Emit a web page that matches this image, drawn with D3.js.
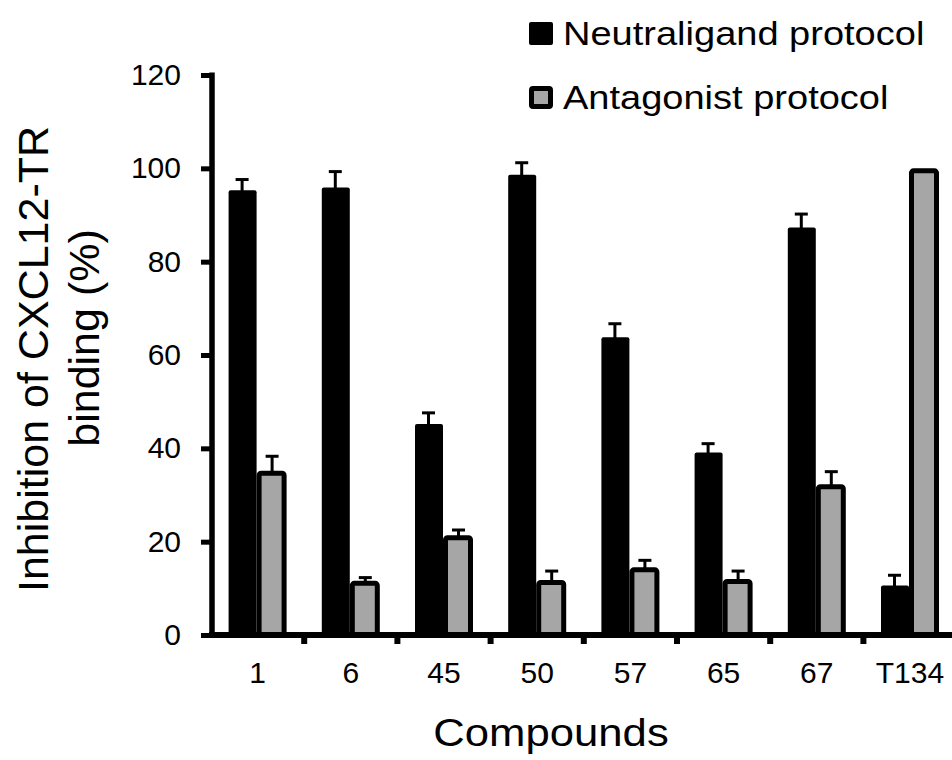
<!DOCTYPE html>
<html>
<head>
<meta charset="utf-8">
<script src="https://cdn.jsdelivr.net/npm/d3@7"></script>
<style>
  html, body { margin: 0; padding: 0; background: #fff; }
  svg { display: block; font-family: "Liberation Sans", Arial, Helvetica, sans-serif; }
</style>
</head>
<body>
<svg id="chart" width="952" height="760"></svg>
<script>
// ---- data ----
const categories = ["1", "6", "45", "50", "57", "65", "67", "T134"];
const seriesNames = ["Neutraligand protocol", "Antagonist protocol"];
const neutraligand = [95.3, 95.9, 45.2, 98.6, 63.8, 39.1, 87.3, 10.6];
const neutraligandErr = [2.3, 3.4, 2.4, 2.6, 2.9, 1.9, 2.9, 2.2];
const antagonist = [35.2, 11.6, 21.4, 11.8, 14.5, 12.0, 32.3, 100];
const antagonistErr = [3.1, 0.7, 1.1, 1.9, 1.5, 1.7, 2.7, 0];
const yTicks = [0, 20, 40, 60, 80, 100, 120];
const xTitle = "Compounds";
const yTitleLines = ["Inhibition of CXCL12-TR", "binding (%)"];

// ---- layout ----
const svg = d3.select("#chart");
const y0 = 635, yTop = 75;
const xLeft = 211, bandW = 93.2;

const x = d3.scaleBand().domain(categories).range([xLeft, xLeft + bandW * categories.length]).padding(0);
const y = d3.scaleLinear().domain([0, 120]).range([y0, yTop]);
const sub = d3.scaleBand().domain(seriesNames).range([-29, 29]).padding(0);

const grey = "#a6a6a6";
const rows = categories.map((c, i) => ({
  cat: c,
  vals: [
    { s: seriesNames[0], v: neutraligand[i], e: neutraligandErr[i] },
    { s: seriesNames[1], v: antagonist[i], e: antagonistErr[i] }
  ]
}));

const center = c => x(c) + x.bandwidth() / 2;

// black bars
svg.append("g").selectAll("rect")
  .data(rows)
  .join("rect")
  .attr("x", d => center(d.cat) + sub(seriesNames[0]))
  .attr("y", d => y(d.vals[0].v))
  .attr("width", sub.bandwidth() - 1)
  .attr("height", d => y0 - y(d.vals[0].v) + 2)
  .attr("rx", 2)
  .attr("fill", "#000");

// grey bars with black border
const sw = 5;
svg.append("g").selectAll("rect")
  .data(rows)
  .join("rect")
  .attr("x", d => center(d.cat) + sub(seriesNames[1]) - 1 + sw / 2)
  .attr("y", d => y(d.vals[1].v) + sw / 2)
  .attr("width", sub.bandwidth() + 1 - sw)
  .attr("height", d => y0 - y(d.vals[1].v) - sw / 2)
  .attr("rx", 2)
  .attr("fill", grey)
  .attr("stroke", "#000")
  .attr("stroke-width", sw);

// error bars
const errs = [];
rows.forEach(r => r.vals.forEach((d, j) => {
  if (d.e > 0) errs.push({ cat: r.cat, j, v: d.v, e: d.e });
}));
const eg = svg.append("g").attr("stroke", "#000").attr("stroke-width", 3);
eg.selectAll("line.v").data(errs).join("line").attr("class", "v")
  .attr("x1", d => center(d.cat) + sub(seriesNames[d.j]) + sub.bandwidth() / 2 - (d.j ? 0 : 1))
  .attr("x2", d => center(d.cat) + sub(seriesNames[d.j]) + sub.bandwidth() / 2 - (d.j ? 0 : 1))
  .attr("y1", d => y(d.v) + 1)
  .attr("y2", d => y(d.v + d.e));
eg.selectAll("line.c").data(errs).join("line").attr("class", "c")
  .attr("x1", d => center(d.cat) + sub(seriesNames[d.j]) + sub.bandwidth() / 2 - (d.j ? 0 : 1) - 6.5)
  .attr("x2", d => center(d.cat) + sub(seriesNames[d.j]) + sub.bandwidth() / 2 - (d.j ? 0 : 1) + 6.5)
  .attr("y1", d => y(d.v + d.e))
  .attr("y2", d => y(d.v + d.e));

// y axis
const yAxis = d3.axisLeft(y).tickValues(yTicks).tickSize(11).tickPadding(20);
const gy = svg.append("g").attr("transform", "translate(212,0)").call(yAxis);
gy.select(".domain").remove();
gy.selectAll(".tick line").attr("stroke", "#000").attr("stroke-width", 5).attr("x2", -11);
gy.selectAll(".tick text").attr("font-size", 30).attr("fill", "#000")
  .attr("font-family", "Liberation Sans, Arial, sans-serif").attr("x", -31);
gy.append("line").attr("x1", 0).attr("x2", 0).attr("y1", y(120) - 2.5).attr("y2", y0 + 3)
  .attr("stroke", "#000").attr("stroke-width", 5.5);

// x axis
const gx = svg.append("g").attr("transform", `translate(0,${y0})`);
gx.append("line").attr("x1", 209).attr("x2", 952).attr("y1", 0).attr("y2", 0)
  .attr("stroke", "#000").attr("stroke-width", 6);
gx.selectAll("line.t").data(categories.slice(1)).join("line").attr("class", "t")
  .attr("x1", d => x(d)).attr("x2", d => x(d))
  .attr("y1", 0).attr("y2", 9)
  .attr("stroke", "#000").attr("stroke-width", 6);
gx.selectAll("text").data(categories).join("text")
  .attr("x", d => center(d))
  .attr("y", 48)
  .attr("text-anchor", "middle")
  .attr("font-size", 30)
  .attr("fill", "#000")
  .text(d => d);

// axis titles
svg.append("text")
  .attr("transform", "translate(551,746) scale(1.12,1)")
  .attr("text-anchor", "middle")
  .attr("font-size", 39)
  .attr("fill", "#000")
  .text(xTitle);

svg.append("text")
  .attr("transform", "translate(48,359) rotate(-90)")
  .attr("text-anchor", "middle")
  .attr("font-size", 43)
  .attr("fill", "#000")
  .text(yTitleLines[0]);
svg.append("text")
  .attr("transform", "translate(99,338) rotate(-90)")
  .attr("text-anchor", "middle")
  .attr("font-size", 43)
  .attr("fill", "#000")
  .text(yTitleLines[1]);

// legend
const legend = svg.append("g");
const legY = [45, 109];
seriesNames.forEach((name, i) => {
  if (i === 0) {
    legend.append("rect").attr("x", 529).attr("y", legY[i] - 23).attr("width", 24).attr("height", 23)
      .attr("rx", 2).attr("fill", "#000");
  } else {
    legend.append("rect").attr("x", 529 + 2.5).attr("y", legY[i] - 23 + 2.5).attr("width", 19).attr("height", 18)
      .attr("rx", 1.5).attr("fill", grey).attr("stroke", "#000").attr("stroke-width", 5);
  }
  legend.append("text")
    .attr("transform", `translate(563,${legY[i]}) scale(1.17,1)`)
    .attr("font-size", 32.5)
    .attr("fill", "#000")
    .text(name);
});
</script>
</body>
</html>
